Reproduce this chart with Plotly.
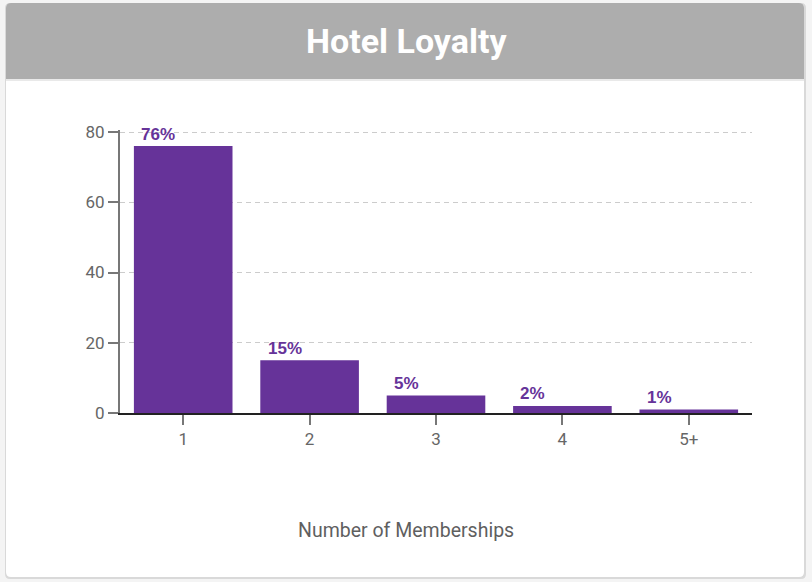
import plotly.graph_objects as go

categories = ["1", "2", "3", "4", "5+"]
values = [76, 15, 5, 2, 1]
labels = ["76%", "15%", "5%", "2%", "1%"]
y_ticks = [0, 20, 40, 60, 80]

W, H = 812, 582
PURPLE = "#663399"

Y_TOP = 80.6  # small headroom so the 80 gridline is drawn
PX_PER_UNIT = (413 - 132) / 80.0


def px_x(x):
    return x / W


def px_y(y):
    return 1 - y / H


def rounded_path(x0, y0, x1, y1, r, top=True, bottom=True):
    rt = r if top else 0
    rb = r if bottom else 0
    pts = []
    pts.append(f"M {px_x(x0 + rt)},{px_y(y0)}")
    pts.append(f"L {px_x(x1 - rt)},{px_y(y0)}")
    if rt:
        pts.append(f"Q {px_x(x1)},{px_y(y0)} {px_x(x1)},{px_y(y0 + rt)}")
    pts.append(f"L {px_x(x1)},{px_y(y1 - rb)}")
    if rb:
        pts.append(f"Q {px_x(x1)},{px_y(y1)} {px_x(x1 - rb)},{px_y(y1)}")
    pts.append(f"L {px_x(x0 + rb)},{px_y(y1)}")
    if rb:
        pts.append(f"Q {px_x(x0)},{px_y(y1)} {px_x(x0)},{px_y(y1 - rb)}")
    pts.append(f"L {px_x(x0)},{px_y(y0 + rt)}")
    if rt:
        pts.append(f"Q {px_x(x0)},{px_y(y0)} {px_x(x0 + rt)},{px_y(y0)}")
    pts.append("Z")
    return " ".join(pts)


fig = go.Figure()
fig.add_trace(go.Bar(
    x=categories, y=values,
    marker=dict(color=PURPLE, line=dict(width=0)),
    hoverinfo="skip",
))

for i, (v, t) in enumerate(zip(values, labels)):
    fig.add_annotation(
        x=i, y=v, text=f"<b>{t}</b>", showarrow=False,
        xanchor="left", yanchor="middle", xshift=-44, yshift=12,
        font=dict(family="Liberation Sans, Arial", size=17, color=PURPLE),
    )

shapes = [
    dict(type="path", xref="paper", yref="paper",
         path=rounded_path(5, 3, 806, 579, 5),
         fillcolor="#d9d9d9", line=dict(width=0), layer="below"),
    dict(type="path", xref="paper", yref="paper",
         path=rounded_path(6, 3, 804, 577, 5),
         fillcolor="#ffffff", line=dict(width=0), layer="below"),
    dict(type="path", xref="paper", yref="paper",
         path=rounded_path(6, 3, 804, 79, 5, top=True, bottom=False),
         fillcolor="#adadad", line=dict(width=0), layer="below"),
    dict(type="line", xref="paper", yref="paper",
         x0=px_x(6), x1=px_x(804), y0=px_y(80), y1=px_y(80),
         line=dict(color="#e2e2e2", width=1.5), layer="below"),
]

fig.add_annotation(
    xref="paper", yref="paper", x=px_x(406), y=px_y(41),
    text="<b>Hotel Loyalty</b>", showarrow=False,
    xanchor="center", yanchor="middle",
    font=dict(family="Roboto", size=34, color="#ffffff"),
)
fig.add_annotation(
    xref="paper", yref="paper", x=px_x(406), y=px_y(530),
    text="Number of Memberships", showarrow=False,
    xanchor="center", yanchor="middle",
    font=dict(family="Roboto", size=19.5, color="#5f5f5f"),
)

top_px = 413 - Y_TOP * PX_PER_UNIT

fig.update_layout(
    width=W, height=H,
    margin=dict(l=0, r=0, t=0, b=0, pad=0),
    paper_bgcolor="#f4f4f4",
    plot_bgcolor="rgba(0,0,0,0)",
    shapes=shapes,
    bargap=0.22,
    showlegend=False,
    font=dict(family="Roboto", size=15, color="#666666"),
    xaxis=dict(
        domain=[px_x(120), px_x(752)],
        range=[-0.5, 4.5],
        automargin=False,
        showgrid=False,
        showline=True, linecolor="#222222", linewidth=2,
        ticks="outside", ticklen=10, tickwidth=2, tickcolor="#777777",
        tickfont=dict(family="Roboto", size=17, color="#666666"),
        fixedrange=True,
    ),
    yaxis=dict(
        domain=[px_y(413), px_y(top_px)],
        range=[0, Y_TOP],
        automargin=False,
        tickvals=y_ticks,
        showgrid=True, gridcolor="#cccccc", gridwidth=1, griddash="5px,4px",
        showline=True, linecolor="#777777", linewidth=2,
        ticks="outside", ticklen=10, tickwidth=2, tickcolor="#777777",
        tickfont=dict(family="Roboto", size=17, color="#666666"),
        zeroline=False,
        fixedrange=True,
    ),
)

fig.write_html("out.html", config={"displayModeBar": False},
               post_script="document.body.style.margin='0';")
